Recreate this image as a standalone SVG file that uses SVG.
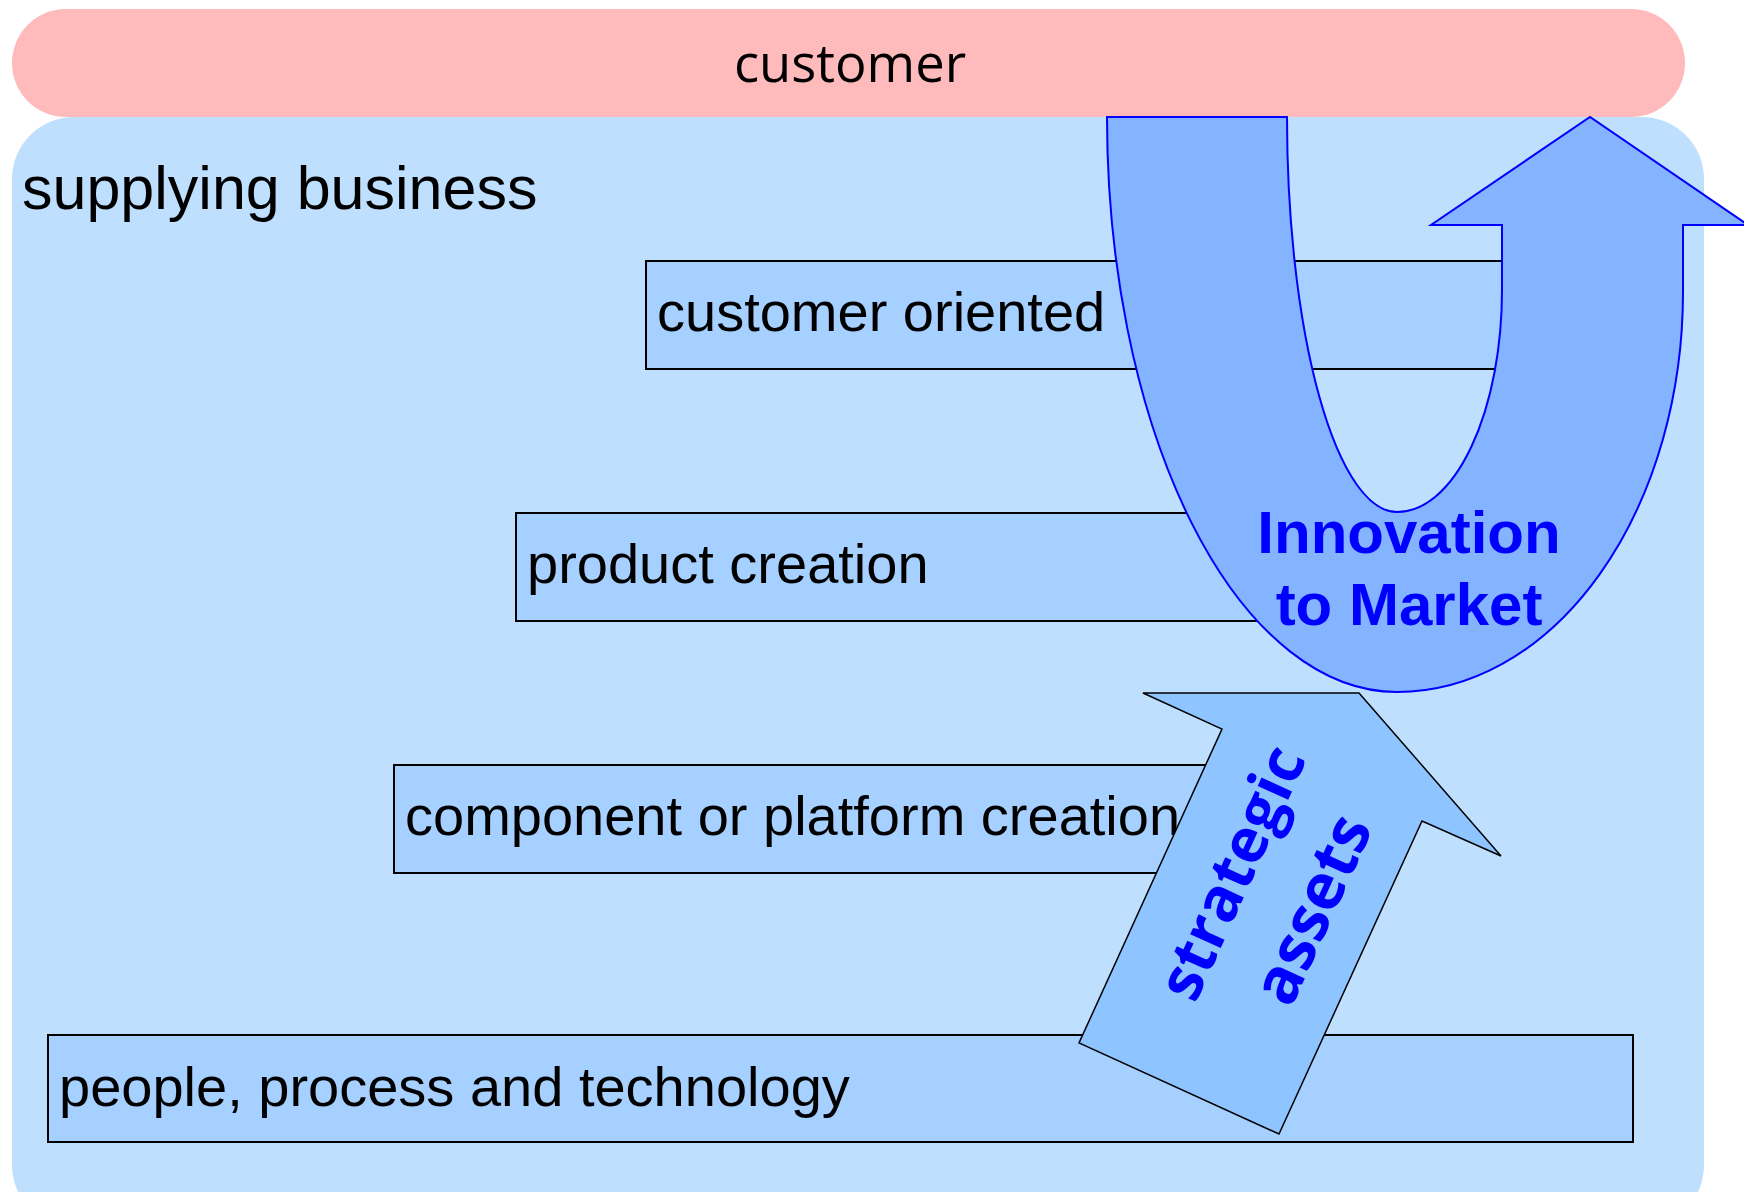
<svg xmlns="http://www.w3.org/2000/svg" width="1744" height="1192" viewBox="0 0 1744 1192">
<style>
.box{fill:#A6D0FF;stroke:#000;stroke-width:2}
.lbl{font-family:"Liberation Sans",Arial,sans-serif;font-size:56px;fill:#000}
.big{font-family:"Liberation Sans",Arial,sans-serif;font-weight:bold;font-size:60px;fill:#0000FF}
.sa{font-family:"Open Sans",sans-serif;font-weight:bold;font-size:64px;fill:#0000FF}
</style>
<rect width="1744" height="1192" fill="#FFFFFF"/>
<g id="supplying-business">
<rect x="12" y="117" width="1692" height="1110" rx="62" ry="62" fill="#BEDFFD"/>
<text x="22" y="209" class="lbl" style="font-size:61px">supplying business</text>
</g>
<g id="customer">
<rect x="12" y="9" width="1673" height="108" rx="54" ry="54" fill="#FFBBBB"/>
<text x="850" y="82" text-anchor="middle" style="font-family:'Open Sans',sans-serif;font-size:52.5px;fill:#000">customer</text>
</g>
<g id="customer-oriented">
<rect x="646" y="261" width="944" height="108" class="box"/>
<text x="657" y="331" class="lbl">customer oriented</text>
</g>
<g id="product-creation">
<rect x="516" y="513" width="934" height="108" class="box"/>
<text x="527" y="583" class="lbl">product creation</text>
</g>
<g id="component-creation">
<rect x="394" y="765" width="1004" height="108" class="box"/>
<text x="405" y="835" class="lbl">component or platform creation</text>
</g>
<g id="people-process-technology">
<rect x="48" y="1035" width="1585" height="107" class="box"/>
<text x="59" y="1106" class="lbl">people, process and technology</text>
</g>
<g id="connectors">
<g id="strategic-assets">
<polygon points="1143,693 1359,693 1501,856 1422,821 1279,1134 1079,1043 1222,729" fill="#8EC4FF" stroke="#000" stroke-width="1.5" stroke-linejoin="miter"/>
<g transform="translate(1272,891) rotate(-65.5)">
<text x="0" y="-23" text-anchor="middle" class="sa" style="font-size:61.5px">strategic</text>
<text x="0" y="66" text-anchor="middle" class="sa">assets</text>
</g>
</g>
<g id="innovation-to-market">
<path d="M1107 117 L1287 117 A110 395 0 0 0 1397 512 A105 222 0 0 0 1502 290 L1502 225 L1431 225 L1590 117 L1748 225 L1683 225 L1683 292 A286 400 0 0 1 1397 692 A290 575 0 0 1 1107 117 Z" fill="#84B4FF" stroke="#0000FF" stroke-width="2" stroke-linejoin="miter"/>
<text x="1409" y="553" text-anchor="middle" class="big">Innovation</text>
<text x="1409" y="625" text-anchor="middle" class="big">to Market</text>
</g>
</g>
</svg>
